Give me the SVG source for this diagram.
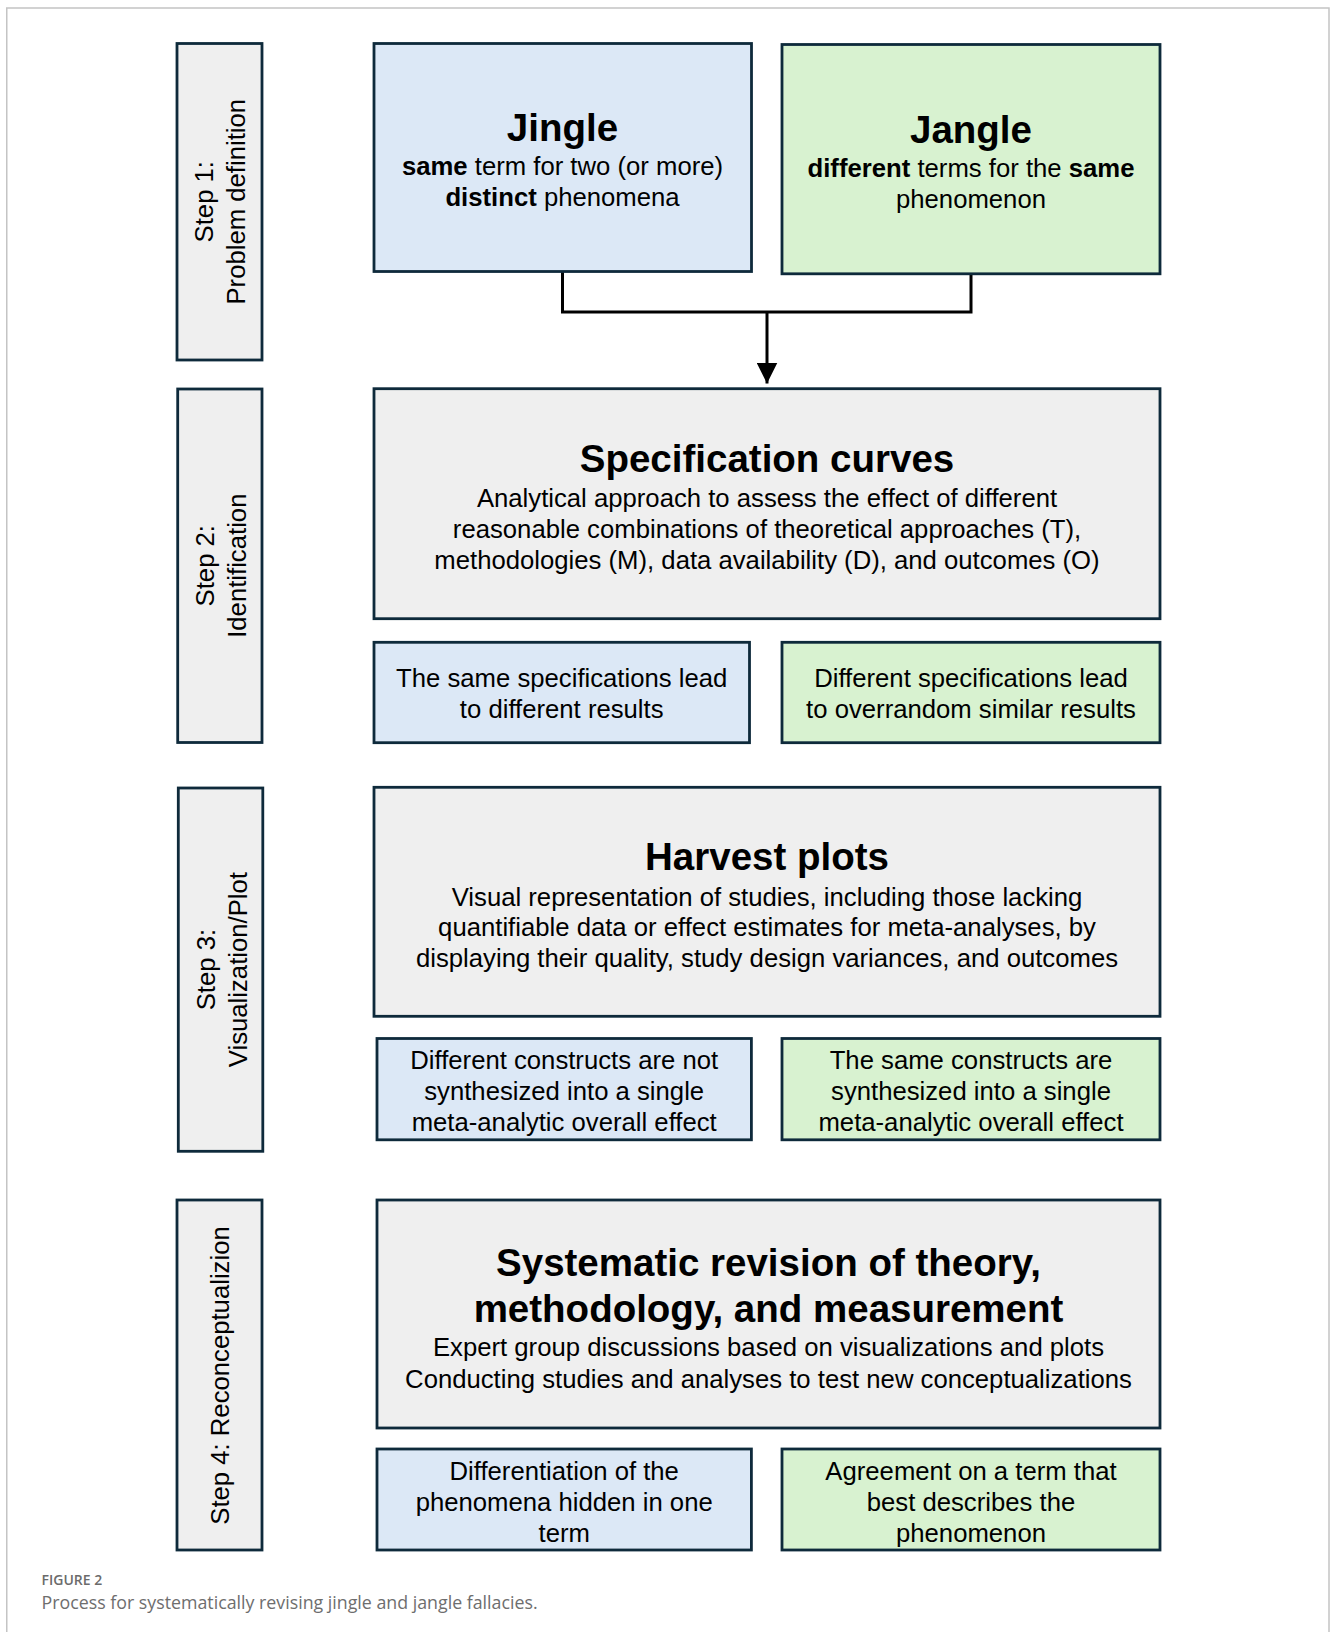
<svg xmlns="http://www.w3.org/2000/svg" width="1330" height="1632" viewBox="0 0 1330 1632">
<style>
  .box { stroke: #0e2a3b; stroke-width: 2.8; }
  .gray { fill: #efefef; }
  .blue { fill: #dce8f6; }
  .green { fill: #d8f2d0; }
  text { font-family: "Liberation Sans", Arial, sans-serif; fill: #000; }
  .t { font-size: 25.7px; text-anchor: middle; }
  .h { font-size: 38.5px; font-weight: bold; text-anchor: middle; }
  .b { font-weight: bold; }
  .conn { fill: none; stroke: #000; stroke-width: 3; }
  .cap1 { font-family: "Open Sans", sans-serif; font-size: 14px; font-weight: 600; fill: #6b6b6b; }
  .cap2 { font-family: "Open Sans", sans-serif; font-size: 17.8px; fill: #6e6e6e; }
</style>
<defs>
  <marker id="arr" markerUnits="userSpaceOnUse" markerWidth="21" markerHeight="21" refX="21" refY="10.5" orient="auto">
    <path d="M0,0 L21,10.5 L0,21 Z" fill="#000"/>
  </marker>
</defs>
<rect width="1330" height="1632" fill="#ffffff"/>
<path d="M6.75,1632 V8 H1329 V1632" fill="none" stroke="#c4c4c4" stroke-width="1.5"/>

<g id="connectors">
  <path class="conn" d="M562.5,271.5 V312 H971 V273.8"/>
  <path class="conn" d="M767,312 V383.5" stroke-width="2.5" marker-end="url(#arr)"/>
</g>

<g id="step1">
  <rect class="box gray" x="177" y="43.5" width="85" height="316.5"/>
  <text class="t" transform="translate(213,201.7) rotate(-90)">Step 1:</text>
  <text class="t" transform="translate(245,201.7) rotate(-90)">Problem definition</text>
</g>
<g id="jingle">
  <rect class="box blue" x="374" y="43.5" width="377.5" height="228"/>
  <text class="h" x="562.5" y="140.5">Jingle</text>
  <text class="t" x="562.5" y="175">  <tspan class="b">same</tspan> term for two (or more)</text>
  <text class="t" x="562.5" y="205.5"><tspan class="b">distinct</tspan> phenomena</text>
</g>
<g id="jangle">
  <rect class="box green" x="782" y="44.5" width="378" height="229.3"/>
  <text class="h" x="971" y="143">Jangle</text>
  <text class="t" x="971" y="177"><tspan class="b">different</tspan> terms for the <tspan class="b">same</tspan></text>
  <text class="t" x="971" y="207.5">phenomenon</text>
</g>

<g id="step2">
  <rect class="box gray" x="177.7" y="389" width="84.3" height="353.5"/>
  <text class="t" transform="translate(214,565.7) rotate(-90)">Step 2:</text>
  <text class="t" transform="translate(246,565.7) rotate(-90)">Identification</text>
</g>
<g id="spec">
  <rect class="box gray" x="374" y="388.7" width="786" height="230"/>
  <text class="h" x="767" y="472">Specification curves</text>
  <text class="t" x="767" y="506.5">Analytical approach to assess the effect of different</text>
  <text class="t" x="767" y="537.5">reasonable combinations of theoretical approaches (T),</text>
  <text class="t" x="767" y="568.5">methodologies (M), data availability (D), and outcomes (O)</text>
</g>
<g id="spec-jingle">
  <rect class="box blue" x="374" y="642.3" width="375.5" height="100.4"/>
  <text class="t" x="561.7" y="687">The same specifications lead</text>
  <text class="t" x="561.7" y="718">to different results</text>
</g>
<g id="spec-jangle">
  <rect class="box green" x="782" y="642.3" width="378" height="100.4"/>
  <text class="t" x="971" y="687">Different specifications lead</text>
  <text class="t" x="971" y="718">to overrandom similar results</text>
</g>

<g id="step3">
  <rect class="box gray" x="178.3" y="788" width="84.5" height="363.3"/>
  <text class="t" transform="translate(214.5,969.6) rotate(-90)">Step 3:</text>
  <text class="t" transform="translate(246.5,969.6) rotate(-90)">Visualization/Plot</text>
</g>
<g id="harvest">
  <rect class="box gray" x="374" y="787.3" width="786" height="229"/>
  <text class="h" x="767" y="870">Harvest plots</text>
  <text class="t" x="767" y="905.5">Visual representation of studies, including those lacking</text>
  <text class="t" x="767" y="936">quantifiable data or effect estimates for meta-analyses, by</text>
  <text class="t" x="767" y="966.5">displaying their quality, study design variances, and outcomes</text>
</g>
<g id="harvest-jingle">
  <rect class="box blue" x="377" y="1038.5" width="374.4" height="101.3"/>
  <text class="t" x="564.2" y="1069">Different constructs are not</text>
  <text class="t" x="564.2" y="1100">synthesized into a single</text>
  <text class="t" x="564.2" y="1131">meta-analytic overall effect</text>
</g>
<g id="harvest-jangle">
  <rect class="box green" x="782" y="1038.5" width="378" height="101.3"/>
  <text class="t" x="971" y="1069">The same constructs are</text>
  <text class="t" x="971" y="1100">synthesized into a single</text>
  <text class="t" x="971" y="1131">meta-analytic overall effect</text>
</g>

<g id="step4">
  <rect class="box gray" x="177" y="1200" width="85" height="350"/>
  <text class="t" transform="translate(229,1375.5) rotate(-90)">Step 4: Reconceptualizion</text>
</g>
<g id="revision">
  <rect class="box gray" x="377" y="1200" width="783" height="228"/>
  <text class="h" x="768.5" y="1276">Systematic revision of theory,</text>
  <text class="h" x="768.5" y="1322">methodology, and measurement</text>
  <text class="t" x="768.5" y="1356">Expert group discussions based on visualizations and plots</text>
  <text class="t" x="768.5" y="1387.5">Conducting studies and analyses to test new conceptualizations</text>
</g>
<g id="revision-jingle">
  <rect class="box blue" x="377" y="1449" width="374.4" height="101"/>
  <text class="t" x="564.2" y="1480">Differentiation of the</text>
  <text class="t" x="564.2" y="1511">phenomena hidden in one</text>
  <text class="t" x="564.2" y="1542">term</text>
</g>
<g id="revision-jangle">
  <rect class="box green" x="782" y="1449" width="378" height="101"/>
  <text class="t" x="971" y="1480">Agreement on a term that</text>
  <text class="t" x="971" y="1511">best describes the</text>
  <text class="t" x="971" y="1542">phenomenon</text>
</g>

<g id="caption">
  <text class="cap1" x="41.5" y="1584.5">FIGURE 2</text>
  <text class="cap2" x="41.5" y="1608.5">Process for systematically revising jingle and jangle fallacies.</text>
</g>
</svg>
